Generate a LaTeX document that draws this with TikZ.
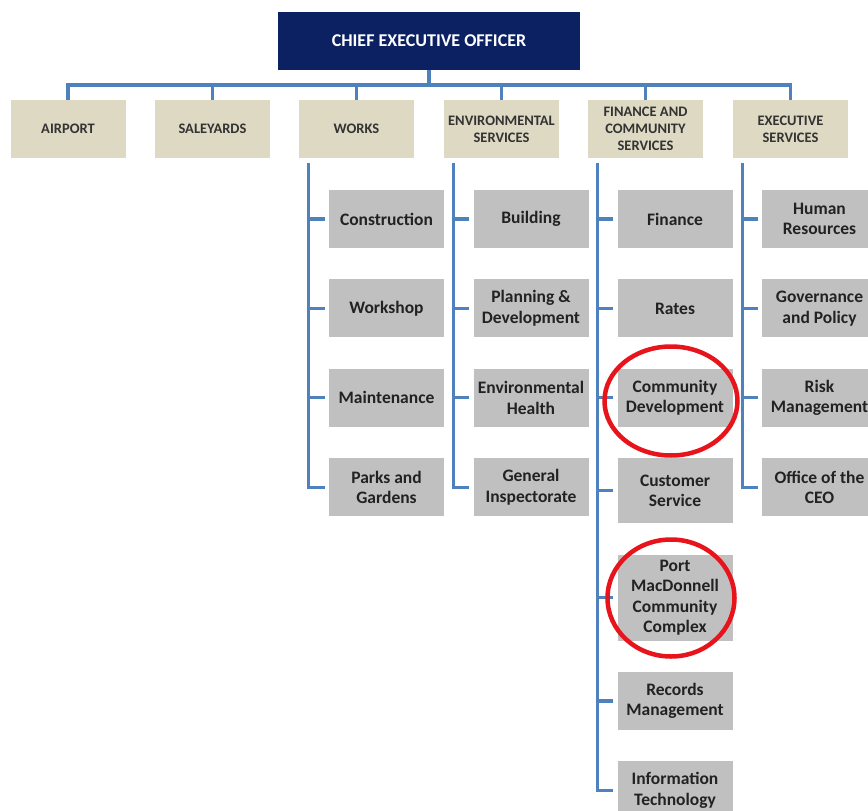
\documentclass[tikz,border=0pt]{standalone}
\usepackage{fontspec}
\setmainfont{Carlito}
\usepackage{tikz}
\usetikzlibrary{positioning,shapes.geometric}
\definecolor{ceoblue}{HTML}{0B2161}
\definecolor{deptbeige}{HTML}{DDD9C3}
\definecolor{unitgrey}{HTML}{C0C0C0}
\definecolor{linkblue}{HTML}{4F81BD}
\definecolor{ringred}{HTML}{E8141B}
\definecolor{depttext}{HTML}{333333}
\definecolor{unittext}{HTML}{222222}

\begin{document}
\begin{tikzpicture}[x=1pt,y=-1pt,node distance=31pt]
            \tikzstyle{head}=[rectangle,fill=ceoblue,text=white,inner sep=0pt,minimum width=302pt,minimum height=58pt,font=\fontsize{18}{21}\selectfont\bfseries]
            \tikzstyle{dept}=[rectangle,fill=deptbeige,text=depttext,inner sep=0pt,minimum width=115pt,minimum height=58pt,align=center,font=\fontsize{14.5}{17}\selectfont\bfseries]
            \tikzstyle{unit}=[rectangle,fill=unitgrey,text=unittext,inner sep=0pt,minimum width=115pt,minimum height=58pt,align=center,font=\fontsize{17.5}{20.5}\selectfont\bfseries]
            \tikzstyle{link}=[draw=linkblue,line width=3.2pt]
            \tikzstyle{ring}=[draw=ringred,line width=4.5pt]
            \path[use as bounding box,fill=white] (0,0) rectangle (868,811);
            \clip (0,0) rectangle (868,811);
            % top two levels
            \node(ceo)[head] at (429,41){CHIEF EXECUTIVE OFFICER};
            \node(airport)[dept] at (68,129){AIRPORT};
            \node(saleyards)[dept] at (212.5,129){SALEYARDS};
            \node(works)[dept] at (356.5,129){WORKS};
            \node(env)[dept] at (501.5,129){ENVIRONMENTAL\\SERVICES};
            \node(fin)[dept] at (645.5,129){FINANCE AND\\COMMUNITY\\SERVICES};
            \node(exec)[dept] at (790.5,129){EXECUTIVE\\SERVICES};
            \coordinate(bus) at (0,85);
            \draw[link] (airport.north) -- (airport.north |- bus) -| (exec.north);
            \draw[link] (ceo.south) -- (ceo.south |- bus);
            \draw[link] (saleyards.north) -- (saleyards.north |- bus);
            \draw[link] (works.north) -- (works.north |- bus);
            \draw[link] (env.north) -- (env.north |- bus);
            \draw[link] (fin.north) -- (fin.north |- bus);
            % works
            \node(constr)[unit] at (386.5,219){Construction};
            \node(workshop)[unit,below=of constr]{Workshop};
            \node(maint)[unit,below=of workshop]{Maintenance};
            \node(parks)[unit,below=of maint]{Parks and\\Gardens};
            % environmental services
            \node(building)[unit] at (531,219){Building};
            \node(planning)[unit,below=of building]{Planning \&\\Development};
            \node(health)[unit,below=of planning]{Environmental\\Health};
            \node(inspect)[unit,below=of health]{General\\Inspectorate};
            % finance and community services
            \node(finance)[unit] at (675,219){Finance};
            \node(rates)[unit,below=of finance]{Rates};
            \node(comdev)[unit,below=of rates]{Community\\Development};
            \node(custserv)[unit,below=of comdev,minimum height=65pt]{Customer\\Service};
            \node(portmac)[unit,below=of custserv,minimum height=86pt]{Port\\MacDonnell\\Community\\Complex};
            \node(records)[unit,below=of portmac]{Records\\Management};
            \node(infotech)[unit,below=of records]{Information\\Technology};
            % executive services
            \node(hr)[unit] at (819.5,219){Human\\Resources};
            \node(gov)[unit,below=of hr]{Governance\\and Policy};
            \node(risk)[unit,below=of gov]{Risk\\Management};
            \node(office)[unit,below=of risk]{Office of the\\CEO};
            % column lines
            \draw[link] ([xshift=10pt,yshift=-5pt]works.south west) |- ([xshift=-4pt]parks.west);
            \draw[link] ([xshift=-4pt]constr.west) -- ++(-16,0);
            \draw[link] ([xshift=-4pt]workshop.west) -- ++(-16,0);
            \draw[link] ([xshift=-4pt]maint.west) -- ++(-16,0);
            \draw[link] ([xshift=10pt,yshift=-5pt]env.south west) |- ([xshift=-4pt]inspect.west);
            \draw[link] ([xshift=-4pt]building.west) -- ++(-16,0);
            \draw[link] ([xshift=-4pt]planning.west) -- ++(-16,0);
            \draw[link] ([xshift=-4pt]health.west) -- ++(-16,0);
            \draw[link] ([xshift=10pt,yshift=-5pt]fin.south west) |- ([xshift=-4pt]infotech.west);
            \draw[link] ([xshift=-4pt]finance.west) -- ++(-16,0);
            \draw[link] ([xshift=-4pt]rates.west) -- ++(-16,0);
            \draw[link] ([xshift=-4pt]comdev.west) -- ++(-16,0);
            \draw[link] ([xshift=-4pt]custserv.west) -- ++(-16,0);
            \draw[link] ([xshift=-4pt]portmac.west) -- ++(-16,0);
            \draw[link] ([xshift=-4pt]records.west) -- ++(-16,0);
            \draw[link] ([xshift=10pt,yshift=-5pt]exec.south west) |- ([xshift=-4pt]office.west);
            \draw[link] ([xshift=-4pt]hr.west) -- ++(-16,0);
            \draw[link] ([xshift=-4pt]gov.west) -- ++(-16,0);
            \draw[link] ([xshift=-4pt]risk.west) -- ++(-16,0);
            % red rings
            \draw[ring] (671,401) ellipse [x radius=66.5, y radius=54.5];
            \draw[ring] (671,598) ellipse [x radius=63.5, y radius=58.5];
\end{tikzpicture}
\end{document}
